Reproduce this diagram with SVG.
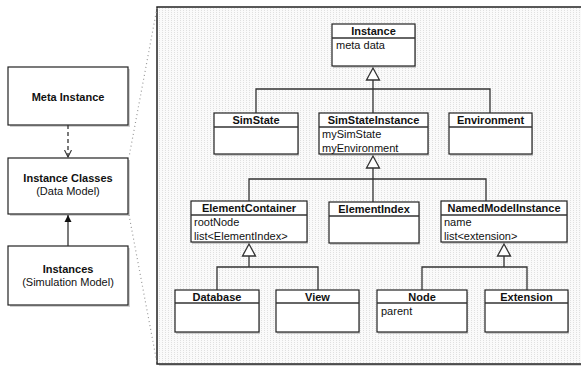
<svg xmlns="http://www.w3.org/2000/svg" width="581" height="369" viewBox="0 0 581 369">
<defs>
<style>
text{font-family:"Liberation Sans",Arial,sans-serif;font-size:11px;fill:#111}
.b{font-weight:bold}
.c{text-anchor:middle}
.box{fill:#fff;stroke:#222;stroke-width:1.2}
.sh{fill:#9a9a9a;opacity:0.45}
.ln{stroke:#333;stroke-width:1.3;fill:none}
.tri{fill:#fff;stroke:#333;stroke-width:1.3}
.dot{stroke:#999;stroke-width:1.2;stroke-dasharray:1 3;fill:none}
</style>
<pattern id="pat" width="3" height="2" patternUnits="userSpaceOnUse">
<rect width="3" height="2" fill="#fafafa"/>
<rect width="1" height="1" fill="#e0e0e0"/>
</pattern>
<marker id="filled" markerWidth="8" markerHeight="8" refX="7" refY="4" orient="auto" markerUnits="userSpaceOnUse">
<path d="M0,0.5 L7,4 L0,7.5 Z" fill="#111"/>
</marker>
<marker id="open" markerWidth="8" markerHeight="8" refX="7" refY="4" orient="auto" markerUnits="userSpaceOnUse">
<path d="M0,0.5 L7,4 L0,7.5" fill="none" stroke="#333" stroke-width="1.1"/>
</marker>
</defs>

<!-- zoom panel -->
<g id="panel">
<rect x="159" y="9" width="430" height="357" fill="#9a9a9a" opacity="0.45"/>
<rect x="157" y="7" width="430" height="357" fill="url(#pat)" stroke="#222" stroke-width="1.5"/>
</g>
<g id="zoom-lines">
<line class="dot" x1="157" y1="8" x2="129" y2="157"/>
<line class="dot" x1="129" y1="215" x2="157" y2="363"/>
</g>

<!-- left nodes -->
<g id="meta-instance">
<rect class="sh" x="10" y="69" width="120" height="58"/>
<rect class="box" x="8" y="67" width="120" height="58"/>
<text class="b c" x="68" y="101">Meta Instance</text>
</g>
<g id="instance-classes">
<rect class="sh" x="10" y="160" width="120" height="56"/>
<rect class="box" x="8" y="158" width="120" height="56"/>
<text class="b c" x="68" y="182">Instance Classes</text>
<text class="c" x="68" y="195">(Data Model)</text>
</g>
<g id="instances">
<rect class="sh" x="10" y="248" width="120" height="59"/>
<rect class="box" x="8" y="246" width="120" height="59"/>
<text class="b c" x="68" y="273">Instances</text>
<text class="c" x="68" y="286">(Simulation Model)</text>
</g>

<!-- class nodes -->
<g id="Instance">
<rect class="sh" x="333" y="26" width="83" height="42"/>
<rect class="box" x="332" y="24" width="83" height="42"/>
<line class="ln" x1="332" y1="38" x2="415" y2="38"/>
<text class="b c" x="373.5" y="35">Instance</text>
<text x="336" y="49">meta data</text>
</g>
<g id="SimState">
<rect class="sh" x="215" y="115" width="84" height="41"/>
<rect class="box" x="214" y="113" width="84" height="41"/>
<line class="ln" x1="214" y1="127" x2="298" y2="127"/>
<text class="b c" x="256" y="124">SimState</text>
</g>
<g id="SimStateInstance">
<rect class="sh" x="320" y="115" width="109" height="41"/>
<rect class="box" x="319" y="113" width="109" height="41"/>
<line class="ln" x1="319" y1="127" x2="428" y2="127"/>
<text class="b c" x="373.5" y="124">SimStateInstance</text>
<text x="322" y="138">mySimState</text>
<text x="322" y="152">myEnvironment</text>
</g>
<g id="Environment">
<rect class="sh" x="450" y="115" width="83" height="41"/>
<rect class="box" x="449" y="113" width="83" height="41"/>
<line class="ln" x1="449" y1="127" x2="532" y2="127"/>
<text class="b c" x="490.5" y="124">Environment</text>
</g>
<g id="ElementContainer">
<rect class="sh" x="192" y="203" width="116" height="41"/>
<rect class="box" x="191" y="201" width="116" height="41"/>
<line class="ln" x1="191" y1="215" x2="307" y2="215"/>
<text class="b c" x="249" y="212">ElementContainer</text>
<text x="194" y="226">rootNode</text>
<text x="194" y="240">list&lt;ElementIndex&gt;</text>
</g>
<g id="ElementIndex">
<rect class="sh" x="330" y="204" width="90" height="41"/>
<rect class="box" x="329" y="202" width="90" height="41"/>
<line class="ln" x1="329" y1="216" x2="419" y2="216"/>
<text class="b c" x="374" y="213">ElementIndex</text>
</g>
<g id="NamedModelInstance">
<rect class="sh" x="442" y="203" width="126" height="41"/>
<rect class="box" x="441" y="201" width="126" height="41"/>
<line class="ln" x1="441" y1="215" x2="567" y2="215"/>
<text class="b c" x="504" y="212">NamedModelInstance</text>
<text x="444" y="226">name</text>
<text x="444" y="240">list&lt;extension&gt;</text>
</g>
<g id="Database">
<rect class="sh" x="176" y="292" width="84" height="42"/>
<rect class="box" x="175" y="290" width="84" height="42"/>
<line class="ln" x1="175" y1="303" x2="259" y2="303"/>
<text class="b c" x="217" y="301">Database</text>
</g>
<g id="View">
<rect class="sh" x="277" y="292" width="83" height="42"/>
<rect class="box" x="276" y="290" width="83" height="42"/>
<line class="ln" x1="276" y1="303" x2="359" y2="303"/>
<text class="b c" x="317.5" y="301">View</text>
</g>
<g id="Node">
<rect class="sh" x="378" y="292" width="90" height="42"/>
<rect class="box" x="377" y="290" width="90" height="42"/>
<line class="ln" x1="377" y1="303" x2="467" y2="303"/>
<text class="b c" x="422" y="301">Node</text>
<text x="381" y="315">parent</text>
</g>
<g id="Extension">
<rect class="sh" x="486" y="292" width="83" height="42"/>
<rect class="box" x="485" y="290" width="83" height="42"/>
<line class="ln" x1="485" y1="303" x2="568" y2="303"/>
<text class="b c" x="526.5" y="301">Extension</text>
</g>

<!-- connectors -->
<g id="connectors">
<line class="ln" x1="68" y1="125" x2="68" y2="157" stroke-dasharray="4 3" marker-end="url(#open)"/>
<line class="ln" x1="68" y1="246" x2="68" y2="215" marker-end="url(#filled)"/>

<path class="ln" d="M373,80 V113 M256,113 V89 H490 V113"/>
<polygon class="tri" points="373,68 366.5,80 379.5,80"/>

<path class="ln" d="M373,168 V202 M249,201 V179 H486 V201"/>
<polygon class="tri" points="373,156 366.5,168 379.5,168"/>

<path class="ln" d="M249,256 V267 M217,290 V267 H318 V290"/>
<polygon class="tri" points="249,244 242.5,256 255.5,256"/>

<path class="ln" d="M504,256 V267 M422,290 V267 H527 V290"/>
<polygon class="tri" points="504,244 497.5,256 510.5,256"/>
</g>
</svg>
